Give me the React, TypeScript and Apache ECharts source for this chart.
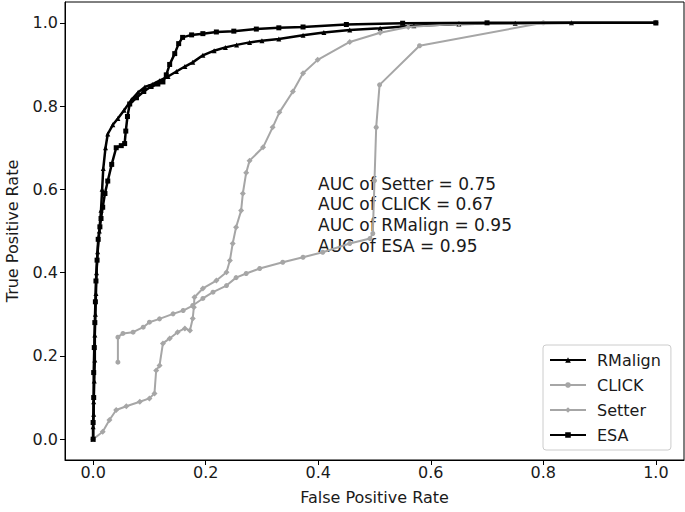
import React, { useEffect, useRef } from "react";
import * as echarts from "echarts";

const tickValues = [0, 0.2, 0.4, 0.6, 0.8, 1.0];

const rmalignX = [0, 0, 0.001, 0.001, 0.002, 0.003, 0.003, 0.004, 0.005, 0.006, 0.008, 0.011, 0.014, 0.016, 0.018, 0.022, 0.026, 0.035, 0.044, 0.055, 0.068, 0.08, 0.092, 0.105, 0.118, 0.133, 0.148, 0.163, 0.177, 0.195, 0.215, 0.235, 0.255, 0.278, 0.3, 0.33, 0.373, 0.41, 0.456, 0.51, 0.57, 0.65, 0.75, 0.85, 1.0];
const rmalignY = [0, 0.03, 0.06, 0.09, 0.14, 0.19, 0.25, 0.3, 0.35, 0.4, 0.45, 0.5, 0.55, 0.6, 0.65, 0.7, 0.733, 0.755, 0.77, 0.79, 0.815, 0.833, 0.846, 0.852, 0.861, 0.871, 0.883, 0.895, 0.905, 0.922, 0.933, 0.941, 0.947, 0.953, 0.957, 0.961, 0.97, 0.977, 0.983, 0.987, 0.993, 0.997, 0.999, 1.0, 1.0];

const esaX = [0, 0, 0.001, 0.001, 0.002, 0.003, 0.004, 0.005, 0.007, 0.009, 0.012, 0.014, 0.017, 0.021, 0.026, 0.033, 0.041, 0.05, 0.056, 0.058, 0.061, 0.065, 0.077, 0.09, 0.103, 0.115, 0.124, 0.13, 0.136, 0.145, 0.152, 0.159, 0.175, 0.195, 0.219, 0.25, 0.29, 0.33, 0.373, 0.45, 0.55, 0.7, 1.0];
const esaY = [0, 0.04, 0.1, 0.16, 0.22, 0.28, 0.33, 0.38, 0.43, 0.48, 0.51, 0.53, 0.557, 0.59, 0.62, 0.66, 0.7, 0.705, 0.71, 0.74, 0.775, 0.805, 0.82, 0.835, 0.847, 0.853, 0.858, 0.875, 0.9, 0.926, 0.95, 0.965, 0.971, 0.974, 0.978, 0.98, 0.985, 0.988, 0.99, 0.996, 0.999, 1.0, 1.0];

const setterX = [0, 0.017, 0.029, 0.041, 0.059, 0.083, 0.1, 0.109, 0.112, 0.118, 0.124, 0.136, 0.15, 0.163, 0.172, 0.177, 0.179, 0.18, 0.195, 0.219, 0.237, 0.243, 0.248, 0.254, 0.263, 0.266, 0.272, 0.278, 0.302, 0.319, 0.331, 0.355, 0.373, 0.399, 0.456, 0.51, 0.56, 0.65, 1.0];
const setterY = [0, 0.018, 0.046, 0.07, 0.079, 0.09, 0.098, 0.11, 0.165, 0.177, 0.23, 0.242, 0.257, 0.266, 0.261, 0.29, 0.317, 0.341, 0.362, 0.381, 0.401, 0.429, 0.47, 0.509, 0.549, 0.59, 0.64, 0.669, 0.701, 0.749, 0.785, 0.835, 0.879, 0.911, 0.954, 0.976, 0.99, 0.998, 1.0];

const clickX = [0.044, 0.044, 0.053, 0.071, 0.089, 0.1, 0.118, 0.142, 0.16, 0.177, 0.195, 0.213, 0.237, 0.254, 0.272, 0.296, 0.337, 0.373, 0.408, 0.456, 0.492, 0.497, 0.5, 0.503, 0.509, 0.58, 0.8, 1.0];
const clickY = [0.185, 0.245, 0.254, 0.257, 0.269, 0.281, 0.289, 0.301, 0.309, 0.321, 0.338, 0.353, 0.369, 0.388, 0.398, 0.41, 0.425, 0.437, 0.449, 0.47, 0.482, 0.494, 0.621, 0.749, 0.851, 0.945, 1.0, 1.0];

const aucLines = [
  "AUC of Setter = 0.75",
  "AUC of CLICK = 0.67",
  "AUC of RMalign = 0.95",
  "AUC of ESA = 0.95",
];

const FONT = "DejaVu Sans";
const GRAY = "#a6a6a6";

const pairs = (xs: number[], ys: number[]) => xs.map((x, i) => [x, ys[i]]);

export default function App() {
  const ref = useRef<HTMLDivElement>(null);
  useEffect(() => {
    if (!ref.current) return;
    const chart = echarts.init(ref.current, null, { renderer: "svg" });
    const axisCommon = {
      type: "value" as const,
      min: -0.05,
      max: 1.05,
      splitLine: { show: false },
      axisLine: { show: true, onZero: false, lineStyle: { color: "#000", width: 1 } },
      axisTick: { show: true, customValues: tickValues, length: 5, lineStyle: { color: "#000" } },
      axisLabel: {
        customValues: tickValues,
        formatter: (v: number) => v.toFixed(1),
        color: "#1a1a1a",
        fontFamily: FONT,
        fontSize: 16,
      },
      nameLocation: "middle" as const,
      nameTextStyle: { fontFamily: FONT, fontSize: 16, color: "#1a1a1a" },
    };
    chart.setOption({
      animation: false,
      backgroundColor: "#fff",
      grid: {
        left: 65,
        right: 1,
        top: 2,
        bottom: 52,
        show: true,
        borderColor: "#000",
        borderWidth: 1,
        containLabel: false,
        outerBoundsMode: "none",
      },
      xAxis: {
        ...axisCommon,
        name: "False Positive Rate",
        nameGap: 29,
        axisLabel: { ...axisCommon.axisLabel, margin: 4 },
      },
      yAxis: {
        ...axisCommon,
        name: "True Positive Rate",
        nameGap: 45,
        axisLabel: { ...axisCommon.axisLabel, margin: 7 },
      },
      legend: {
        orient: "vertical",
        left: 543,
        top: 345,
        padding: [7, 10, 7, 6],
        itemWidth: 36,
        itemHeight: 7,
        itemGap: 9,
        borderColor: "#cccccc",
        borderWidth: 1,
        borderRadius: 3,
        backgroundColor: "#fff",
        textStyle: { fontFamily: FONT, fontSize: 16, lineHeight: 16, color: "#1a1a1a", padding: [0, 0, 0, 6] },
        data: ["RMalign", "CLICK", "Setter", "ESA"],
      },
      graphic: aucLines.map((t, i) => ({
        type: "text",
        left: 318,
        top: 175 + i * 20.7,
        style: { text: t, fontFamily: FONT, fontSize: 17, fill: "#1a1a1a" },
      })),
      series: [
        {
          name: "RMalign",
          type: "line",
          data: pairs(rmalignX, rmalignY),
          symbol: "triangle",
          symbolSize: 5,
          showAllSymbol: true,
          lineStyle: { color: "#000", width: 2.5 },
          itemStyle: { color: "#000" },
          z: 2,
        },
        {
          name: "CLICK",
          type: "line",
          data: pairs(clickX, clickY),
          symbol: "circle",
          symbolSize: 5,
          showAllSymbol: true,
          lineStyle: { color: GRAY, width: 2 },
          itemStyle: { color: GRAY },
          z: 3,
        },
        {
          name: "Setter",
          type: "line",
          data: pairs(setterX, setterY),
          symbol: "diamond",
          symbolSize: 6,
          showAllSymbol: true,
          lineStyle: { color: GRAY, width: 2 },
          itemStyle: { color: GRAY },
          z: 4,
        },
        {
          name: "ESA",
          type: "line",
          data: pairs(esaX, esaY),
          symbol: "rect",
          symbolSize: 5,
          showAllSymbol: true,
          lineStyle: { color: "#000", width: 2.5 },
          itemStyle: { color: "#000" },
          z: 5,
        },
      ],
    });
    return () => chart.dispose();
  }, []);
  return <div ref={ref} style={{ width: 685, height: 512, position: "absolute", left: 0, top: 0 }} />;
}
